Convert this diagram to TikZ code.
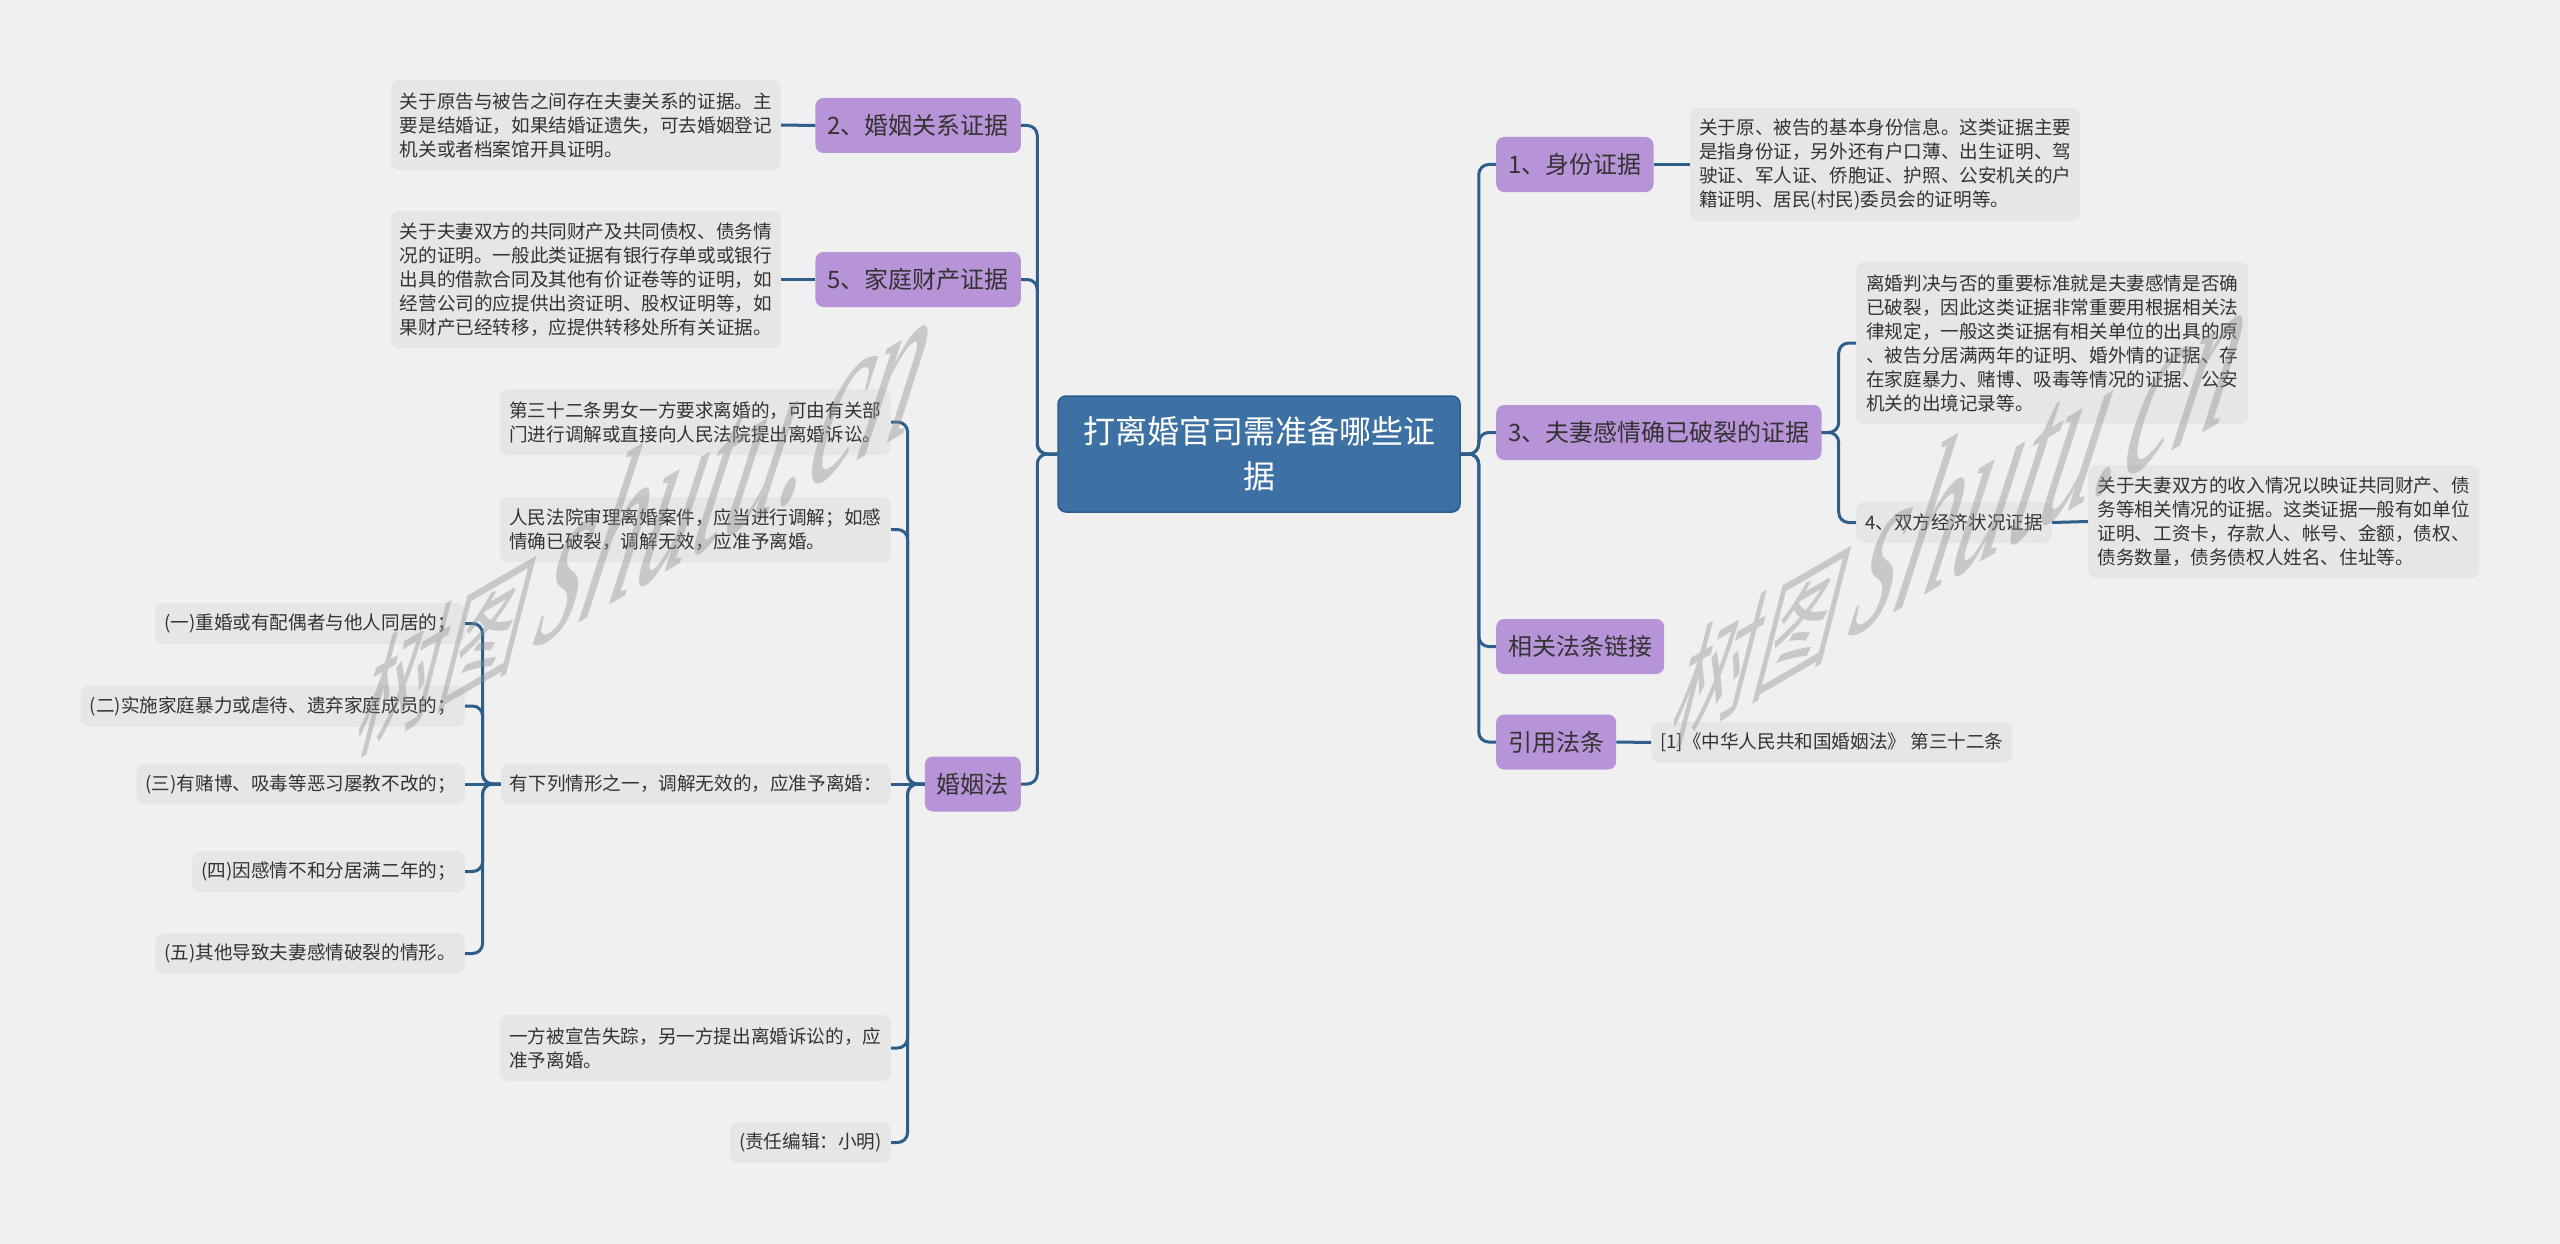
\documentclass[tikz,border=0pt]{standalone}
\usepackage{fontspec}
\newfontfamily\cjk{Noto Sans CJK SC}
\newfontfamily\wmcjk[FakeStretch=0.72]{Noto Sans CJK SC}
\newfontfamily\wmlat[FakeStretch=0.55]{Liberation Serif Italic}
\definecolor{bg}{HTML}{F0F0F0}
\definecolor{descfill}{HTML}{E6E6E6}
\definecolor{purp}{HTML}{B794D8}
\definecolor{rootfill}{HTML}{3E71A3}
\definecolor{rootline}{HTML}{2C5C8A}
\definecolor{conncol}{HTML}{2F5E8B}
\definecolor{txt}{HTML}{333333}
\begin{document}
\begin{tikzpicture}[x=1pt,y=-1pt,
  conn/.style={draw=conncol,line width=3pt,rounded corners=10pt},
  rootbox/.style={fill=rootfill,draw=rootline,line width=1.5pt,rounded corners=8pt,text=white,align=center,font=\cjk\fontsize{32}{45}\selectfont,inner sep=0pt},
  branch/.style={fill=purp,rounded corners=8pt,text=txt,font=\cjk\fontsize{24}{30}\selectfont,inner xsep=12pt,inner ysep=0pt,minimum height=55pt},
  descbox/.style={fill=descfill,rounded corners=8pt,text=txt,align=left,font=\cjk\fontsize{18.6}{24}\selectfont,inner xsep=9pt,inner ysep=0pt},
  wm/.style={text=black!45,opacity=0.4,yslant=0.58,xslant=0.3,inner sep=0pt}
]
\fill[bg] (0,0) rectangle (2560,1244);
\useasboundingbox (0,0) rectangle (2560,1244);

% root
\node[rootbox,minimum width=402pt,minimum height=116pt] (root) at (1259,454) {打离婚官司需准备哪些证\\据};

% right side
\node[branch,anchor=west] (n1) at (1496,164.5) {1、身份证据};
\node[descbox,anchor=west,minimum width=390pt,minimum height=113pt] (d1) at (1690,164.5) {关于原、被告的基本身份信息。这类证据主要\\是指身份证，另外还有户口薄、出生证明、驾\\驶证、军人证、侨胞证、护照、公安机关的户\\籍证明、居民(村民)委员会的证明等。};
\node[branch,anchor=west] (n3) at (1496,432.5) {3、夫妻感情确已破裂的证据};
\node[descbox,anchor=west,minimum width=392pt,minimum height=162pt] (d3a) at (1856,343) {离婚判决与否的重要标准就是夫妻感情是否确\\已破裂，因此这类证据非常重要用根据相关法\\律规定，一般这类证据有相关单位的出具的原\\、被告分居满两年的证明、婚外情的证据、存\\在家庭暴力、赌博、吸毒等情况的证据、公安\\机关的出境记录等。};
\node[descbox,anchor=west,minimum height=41pt] (n4) at (1856,522.5) {4、双方经济状况证据};
\node[descbox,anchor=west,minimum width=391pt,minimum height=113pt] (d4) at (2088,521.5) {关于夫妻双方的收入情况以映证共同财产、债\\务等相关情况的证据。这类证据一般有如单位\\证明、工资卡，存款人、帐号、金额，债权、\\债务数量，债务债权人姓名、住址等。};
\node[branch,anchor=west] (n6) at (1496,646.5) {相关法条链接};
\node[branch,anchor=west] (n7) at (1496,742) {引用法条};
\node[descbox,anchor=west,minimum height=41pt] (d7) at (1651,742.5) {[1]《中华人民共和国婚姻法》 第三十二条};

% left side
\node[branch,anchor=east] (n2) at (1021,125.5) {2、婚姻关系证据};
\node[descbox,anchor=east,minimum width=390pt,minimum height=90pt] (d2) at (781,125) {关于原告与被告之间存在夫妻关系的证据。主\\要是结婚证，如果结婚证遗失，可去婚姻登记\\机关或者档案馆开具证明。};
\node[branch,anchor=east] (n5) at (1021,279.5) {5、家庭财产证据};
\node[descbox,anchor=east,minimum width=390pt,minimum height=137pt] (d5) at (781,279.5) {关于夫妻双方的共同财产及共同债权、债务情\\况的证明。一般此类证据有银行存单或或银行\\出具的借款合同及其他有价证卷等的证明，如\\经营公司的应提供出资证明、股权证明等，如\\果财产已经转移，应提供转移处所有关证据。};
\node[branch,anchor=east] (n8) at (1021,784) {婚姻法};
\node[descbox,anchor=east,minimum width=391pt,minimum height=66pt] (iA) at (891,422) {第三十二条男女一方要求离婚的，可由有关部\\门进行调解或直接向人民法院提出离婚诉讼。};
\node[descbox,anchor=east,minimum width=391pt,minimum height=65pt] (iB) at (891,529.5) {人民法院审理离婚案件，应当进行调解；如感\\情确已破裂，调解无效，应准予离婚。};
\node[descbox,anchor=east,minimum height=41pt] (iC) at (891,784) {有下列情形之一，调解无效的，应准予离婚：};
\node[descbox,anchor=east,minimum height=41pt] (c1) at (465,623.5) {(一)重婚或有配偶者与他人同居的；};
\node[descbox,anchor=east,minimum height=41pt] (c2) at (465,706) {(二)实施家庭暴力或虐待、遗弃家庭成员的；};
\node[descbox,anchor=east,minimum height=41pt] (c3) at (465,784) {(三)有赌博、吸毒等恶习屡教不改的；};
\node[descbox,anchor=east,minimum height=41pt] (c4) at (465,871.5) {(四)因感情不和分居满二年的；};
\node[descbox,anchor=east,minimum height=41pt] (c5) at (465,953.5) {(五)其他导致夫妻感情破裂的情形。};
\node[descbox,anchor=east,minimum width=391pt,minimum height=66pt] (iD) at (891,1048) {一方被宣告失踪，另一方提出离婚诉讼的，应\\准予离婚。};
\node[descbox,anchor=east,minimum height=41pt] (iE) at (891,1142.5) {(责任编辑：小明)};

% connectors right
\foreach \c in {n1,n3,n6,n7} \draw[conn] (root.east) -- ++(18,0) |- (\c.west);
\draw[conn] (n1.east) -- (d1.west);
\foreach \c in {d3a,n4} \draw[conn] (n3.east) -- ++(17,0) |- (\c.west);
\draw[conn] (n4.east) -- (d4.west);
\draw[conn] (n7.east) -- (d7.west);

% connectors left
\foreach \c in {n2,n5,n8} \draw[conn] (root.west) -- ++(-20,0) |- (\c.east);
\draw[conn] (n2.west) -- (d2.east);
\draw[conn] (n5.west) -- (d5.east);
\foreach \c in {iA,iB,iD,iE} \draw[conn] (n8.west) -- ++(-17,0) |- (\c.east);
\draw[conn] (n8.west) -- (iC.east);
\foreach \c in {c1,c2,c4,c5} \draw[conn] (iC.west) -- ++(-18,0) |- (\c.east);
\draw[conn] (iC.west) -- (c3.east);

% watermarks
\node[wm] (wmL) at (650,515) {{\wmcjk\fontsize{115}{115}\selectfont 树图}\hspace{14pt}{\wmlat\fontsize{205}{205}\selectfont shutu.cn}};
\node[wm] (wmR) at (1965,505) {{\wmcjk\fontsize{115}{115}\selectfont 树图}\hspace{14pt}{\wmlat\fontsize{205}{205}\selectfont shutu.cn}};
\end{tikzpicture}
\end{document}
